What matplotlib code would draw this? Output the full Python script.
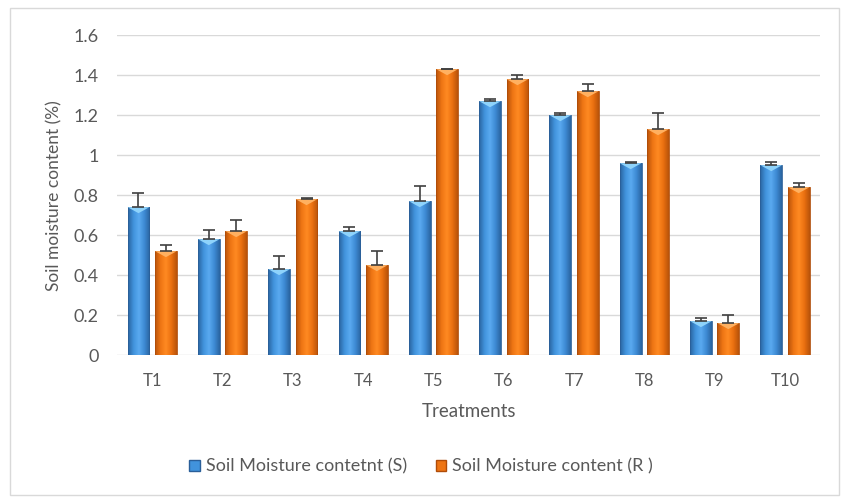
import numpy as np
import matplotlib.pyplot as plt
from matplotlib.colors import LinearSegmentedColormap
from matplotlib.patches import Patch, Polygon

treatments = ['T1', 'T2', 'T3', 'T4', 'T5', 'T6', 'T7', 'T8', 'T9', 'T10']
moisture_s = [0.74, 0.58, 0.43, 0.62, 0.77, 1.27, 1.20, 0.96, 0.17, 0.95]
err_s = [0.07, 0.045, 0.065, 0.02, 0.075, 0.01, 0.01, 0.005, 0.015, 0.015]
moisture_r = [0.52, 0.62, 0.78, 0.45, 1.43, 1.38, 1.32, 1.13, 0.16, 0.84]
err_r = [0.03, 0.055, 0.005, 0.07, 0.003, 0.02, 0.035, 0.08, 0.04, 0.02]

plt.rcParams['font.family'] = ['Lato', 'DejaVu Sans']
text_color = '#595959'

blue_cmap = LinearSegmentedColormap.from_list(
    'b', ['#2a64a0', '#4193dc', '#5aaaf0', '#3e8ad4', '#2a64a0'])
orange_cmap = LinearSegmentedColormap.from_list(
    'o', ['#b8530a', '#ee7514', '#ff8a22', '#ea7010', '#b8530a'])
grad = np.linspace(0, 1, 64).reshape(1, -1)

fig = plt.figure(figsize=(8.42, 5.03), dpi=100)
fig.patches.append(plt.Rectangle((0.012, 0.016), 0.984, 0.968, transform=fig.transFigure,
                                 fill=False, edgecolor='#d9d9d9', linewidth=1))
ax = fig.add_axes([0.139, 0.294, 0.835, 0.636])

x = np.arange(len(treatments))
width = 0.31
offset = 0.195


def draw_bars(xpos, values, errors, cmap, top_color, edge):
    bars = ax.bar(xpos, values, width, color='none', edgecolor=edge, linewidth=0.6, zorder=3)
    for b in bars:
        x0, w, h = b.get_x(), b.get_width(), b.get_height()
        im = ax.imshow(grad, cmap=cmap, extent=[x0, x0 + w, 0, h], aspect='auto', zorder=2.5)
        im.set_clip_path(b)
        tri = Polygon([[x0, h], [x0 + w, h], [x0 + w / 2, h - 0.03]], closed=True,
                      facecolor=top_color, edgecolor='none', zorder=3.2)
        ax.add_patch(tri)
    ax.errorbar(xpos, values, yerr=[np.zeros(len(values)), errors], fmt='none',
                ecolor='#404040', elinewidth=1.2, capsize=4.5, capthick=1.2, zorder=4)


draw_bars(x - offset, moisture_s, err_s, blue_cmap, '#8ed3fb', '#2a5f99')
draw_bars(x + offset, moisture_r, err_r, orange_cmap, '#ffb060', '#b04c08')

ax.set_xlim(-0.5, len(treatments) - 0.5)
ax.set_ylim(0, 1.6)
ax.set_yticks(np.arange(0, 1.61, 0.2))
ax.set_yticklabels(['0', '0.2', '0.4', '0.6', '0.8', '1', '1.2', '1.4', '1.6'])
ax.set_xticks(x)
ax.set_xticklabels(treatments)
ax.grid(axis='y', color='#d9d9d9', linewidth=1, zorder=0)
ax.set_axisbelow(True)
for s in ax.spines.values():
    s.set_visible(False)
ax.tick_params(axis='x', length=0, labelsize=12, colors=text_color, pad=13)
ax.tick_params(axis='y', length=0, labelsize=13, colors=text_color, pad=13)

ax.set_xlabel('Treatments', fontsize=13.5, color=text_color, labelpad=10)
ax.set_ylabel('Soil moisture content (%)', fontsize=12.5, color=text_color, labelpad=8)

handles = [Patch(facecolor='#4193dc', edgecolor='#2a5f99'),
           Patch(facecolor='#ee7514', edgecolor='#b04c08')]
fig.legend(handles, ['Soil Moisture contetnt (S)', 'Soil Moisture content (R )'],
           loc='center', bbox_to_anchor=(0.5, 0.072), ncol=2, frameon=False,
           fontsize=13, labelcolor=text_color, handlelength=0.6, handleheight=0.6,
           handletextpad=0.3, columnspacing=1.6)

fig.savefig('out.png', dpi=100)
